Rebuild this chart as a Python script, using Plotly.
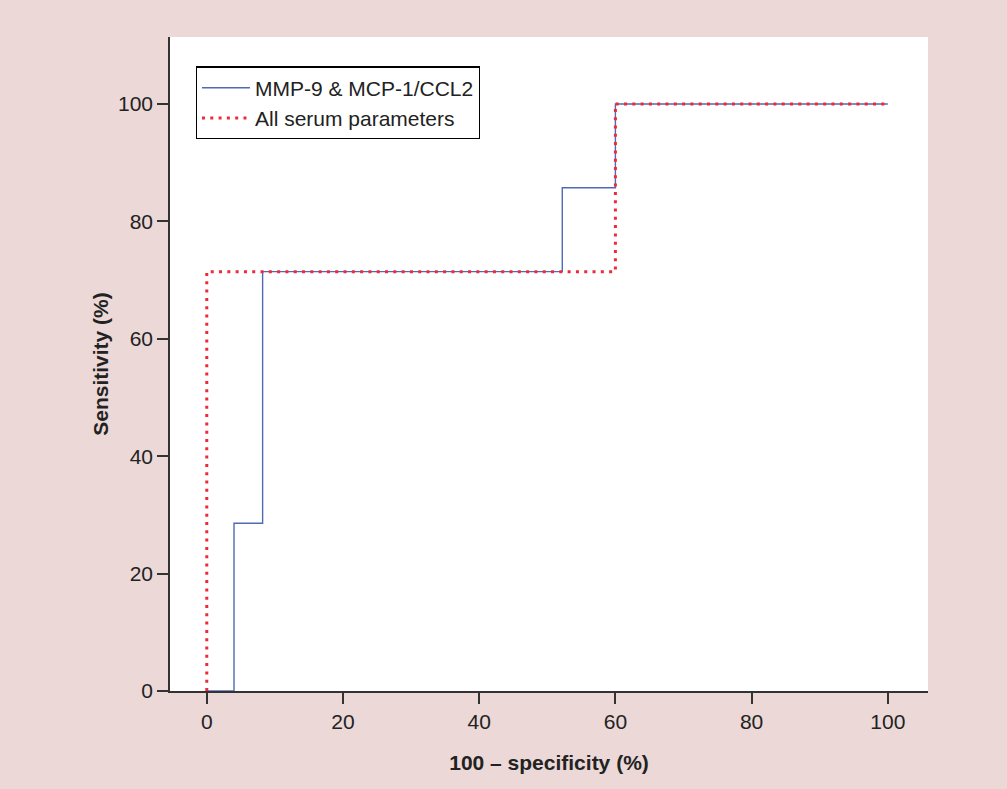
import plotly.graph_objects as go

# ROC step data (100 - specificity, sensitivity)
mmp_x = [0, 4, 4, 8.2, 8.2, 52.2, 52.2, 60, 60, 100]
mmp_y = [0, 0, 28.57, 28.57, 71.43, 71.43, 85.71, 85.71, 100, 100]
all_x = [0, 0, 60, 60, 100]
all_y = [0, 71.43, 71.43, 100, 100]
series_names = ["MMP-9 & MCP-1/CCL2", "All serum parameters"]
tick_vals = [0, 20, 40, 60, 80, 100]

FONT = "Liberation Sans, Arial, Helvetica, sans-serif"
fig = go.Figure()
fig.add_trace(go.Scatter(x=mmp_x, y=mmp_y, mode="lines", name=series_names[0],
                         line=dict(color="#4f6bb5", width=1.4)))
fig.add_trace(go.Scatter(x=all_x, y=all_y, mode="lines", name=series_names[1],
                         line=dict(color="#ee2a3a", width=3, dash="3px,5.3px")))

axis_common = dict(showgrid=False, zeroline=False, showline=True, linecolor="#333333",
                   linewidth=1.5, ticks="outside", ticklen=11, tickwidth=1.5,
                   tickcolor="#333333", tickvals=tick_vals,
                   tickfont=dict(family=FONT, size=21, color="#222222"))
fig.update_layout(
    width=1007, height=789,
    paper_bgcolor="#ebd8d7", plot_bgcolor="#ffffff",
    margin=dict(l=170, r=79, t=37, b=98),
    font=dict(family=FONT, color="#222222"),
    xaxis=dict(range=[-5.4, 105.9], title=dict(text="<b>100 – specificity (%)</b>",
               font=dict(family=FONT, size=21), standoff=23), **axis_common),
    yaxis=dict(range=[0, 111.4], title=dict(text="<b>Sensitivity (%)</b>",
               font=dict(family=FONT, size=21), standoff=4), **axis_common),
    legend=dict(x=0.034, y=0.955, xanchor="left", yanchor="top",
                bgcolor="#ffffff", bordercolor="#000000", borderwidth=1.2,
                font=dict(family=FONT, size=21, color="#222222"),
                tracegroupgap=0, itemwidth=48),
    showlegend=True,
)
fig.write_html("out.html", config={"displayModeBar": False},
               post_script="document.body.style.margin='0';document.body.style.padding='0';"
                           "document.documentElement.style.background='#ebd8d7';")
